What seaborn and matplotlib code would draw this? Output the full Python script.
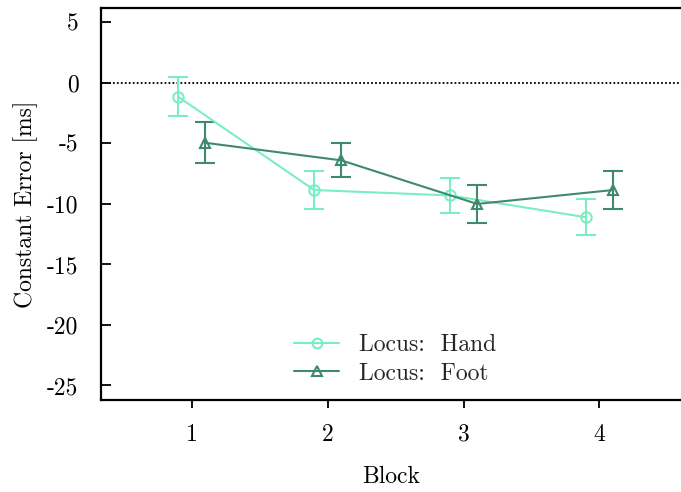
import matplotlib
matplotlib.use("Agg")
import matplotlib.pyplot as plt
import seaborn as sns
import pandas as pd
from matplotlib.lines import Line2D

# Mean constant error per block, with standard-error half-widths
blocks = [1, 2, 3, 4]
hand_mean = [-1.15, -8.85, -9.3, -11.1]
hand_err = [1.6, 1.55, 1.45, 1.5]
foot_mean = [-4.95, -6.4, -10.0, -8.85]
foot_err = [1.7, 1.4, 1.6, 1.6]
series_names = ["Locus:  Hand", "Locus:  Foot"]
y_ticks = [5, 0, -5, -10, -15, -20, -25]

offsets = [-0.1, 0.1]
colors = ["#7aeec2", "#3f8a6c"]
markers = ["o", "^"]

rows = []
for name, means, errs, off in zip(series_names, [hand_mean, foot_mean],
                                  [hand_err, foot_err], offsets):
    for b, m, e in zip(blocks, means, errs):
        rows.append({"Block": b + off, "Error": m, "SE": e, "Locus": name})
df = pd.DataFrame(rows)

sns.set_theme(style="ticks")
plt.rcParams["font.family"] = "serif"
plt.rcParams["font.serif"] = ["cmr10", "DejaVu Serif"]
plt.rcParams["axes.unicode_minus"] = False

FS = 17

fig = plt.figure(figsize=(6.81, 4.92), dpi=100)
ax = fig.add_axes([0.148, 0.187, 0.852, 0.797])

ax.axhline(0, color="black", linestyle=(0, (1, 1.2)), linewidth=1.3, zorder=1)

sns.lineplot(data=df, x="Block", y="Error", hue="Locus", style="Locus",
             hue_order=series_names, style_order=series_names,
             palette=colors, markers=markers, dashes=False,
             markersize=7.5, markerfacecolor="none", markeredgewidth=1.5,
             linewidth=1.5, ax=ax, legend=False, zorder=3)

for name, col in zip(series_names, colors):
    sub = df[df["Locus"] == name]
    ax.errorbar(sub["Block"], sub["Error"], yerr=sub["SE"], fmt="none",
                ecolor=col, elinewidth=1.5, capsize=7, capthick=1.5, zorder=2)

# open markers with colored edges
for line, col in zip(ax.lines[1:3], colors):
    line.set_markeredgecolor(col)
    line.set_markerfacecolor("none")

handles = [Line2D([], [], color=c, marker=m, markersize=7, markerfacecolor="none",
                  markeredgecolor=c, markeredgewidth=1.5, linewidth=1.5)
           for c, m in zip(colors, markers)]
ax.legend(handles, series_names, loc="center", bbox_to_anchor=(0.508, 0.104),
          frameon=False, fontsize=FS, handlelength=1.9, labelspacing=0.28,
          handletextpad=0.85)

ax.set_xlim(0.33, 4.6)
ax.set_ylim(-26.2, 6.2)
ax.set_xticks(blocks)
ax.set_xticklabels([str(b) for b in blocks])
ax.set_yticks(y_ticks)
ax.set_yticklabels([str(t) for t in y_ticks])
ax.set_xlabel("Block", fontsize=FS, labelpad=14.5)
ax.set_ylabel("Constant Error [ms]", fontsize=FS, labelpad=6.5)

ax.tick_params(axis="y", direction="in", length=7, width=1.3, labelsize=FS,
               pad=16, color="black", labelcolor="black")
ax.tick_params(axis="x", direction="out", length=6, width=1.3, labelsize=FS,
               pad=11, color="black", labelcolor="black")
for s in ["left", "bottom", "top"]:
    ax.spines[s].set_linewidth(1.6)
    ax.spines[s].set_color("black")
ax.spines["right"].set_visible(False)
ax.xaxis.label.set_color("black")
ax.yaxis.label.set_color("black")

fig.savefig("out.png", dpi=100)
